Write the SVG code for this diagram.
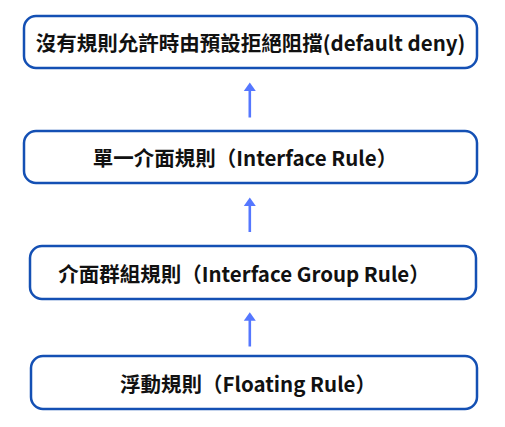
<svg xmlns="http://www.w3.org/2000/svg" width="505" height="427" viewBox="0 0 505 427">
<style>
.box{fill:#ffffff;stroke:#1450b4;stroke-width:2.5}
.lbl{font-family:"Noto Sans CJK TC","Noto Sans",sans-serif;font-weight:bold;font-size:20.5px;fill:#111111;text-anchor:middle;dominant-baseline:central}
.arr{stroke:#5577ff;stroke-width:2.6;fill:none}
.head{fill:#5577ff}
</style>
<rect width="505" height="427" fill="#ffffff"/>
<g id="node-default">
<rect class="box" x="24" y="16" width="453" height="52" rx="12"/>
<text class="lbl" x="250.5" y="42">沒有規則允許時由預設拒絕阻擋(default deny)</text>
</g>
<g id="node-interface">
<rect class="box" x="24" y="131" width="453" height="52" rx="12"/>
<text class="lbl" x="245" y="157">單一介面規則（Interface Rule）</text>
</g>
<g id="node-group">
<rect class="box" x="30" y="246" width="446" height="53" rx="12"/>
<text class="lbl" x="244" y="272.5">介面群組規則（Interface Group Rule）</text>
</g>
<g id="node-floating">
<rect class="box" x="31" y="356" width="446" height="53" rx="12"/>
<text class="lbl" x="248" y="382.5">浮動規則（Floating Rule）</text>
</g>
<g id="connectors">
<line class="arr" x1="249.8" y1="117.5" x2="249.8" y2="89"/>
<polygon class="head" points="249.8,82.5 243.8,91 255.8,91"/>
<line class="arr" x1="249.8" y1="232" x2="249.8" y2="204"/>
<polygon class="head" points="249.8,197.5 243.8,206 255.8,206"/>
<line class="arr" x1="249.8" y1="346.5" x2="249.8" y2="319"/>
<polygon class="head" points="249.8,312.3 243.8,320.8 255.8,320.8"/>
</g>
</svg>
